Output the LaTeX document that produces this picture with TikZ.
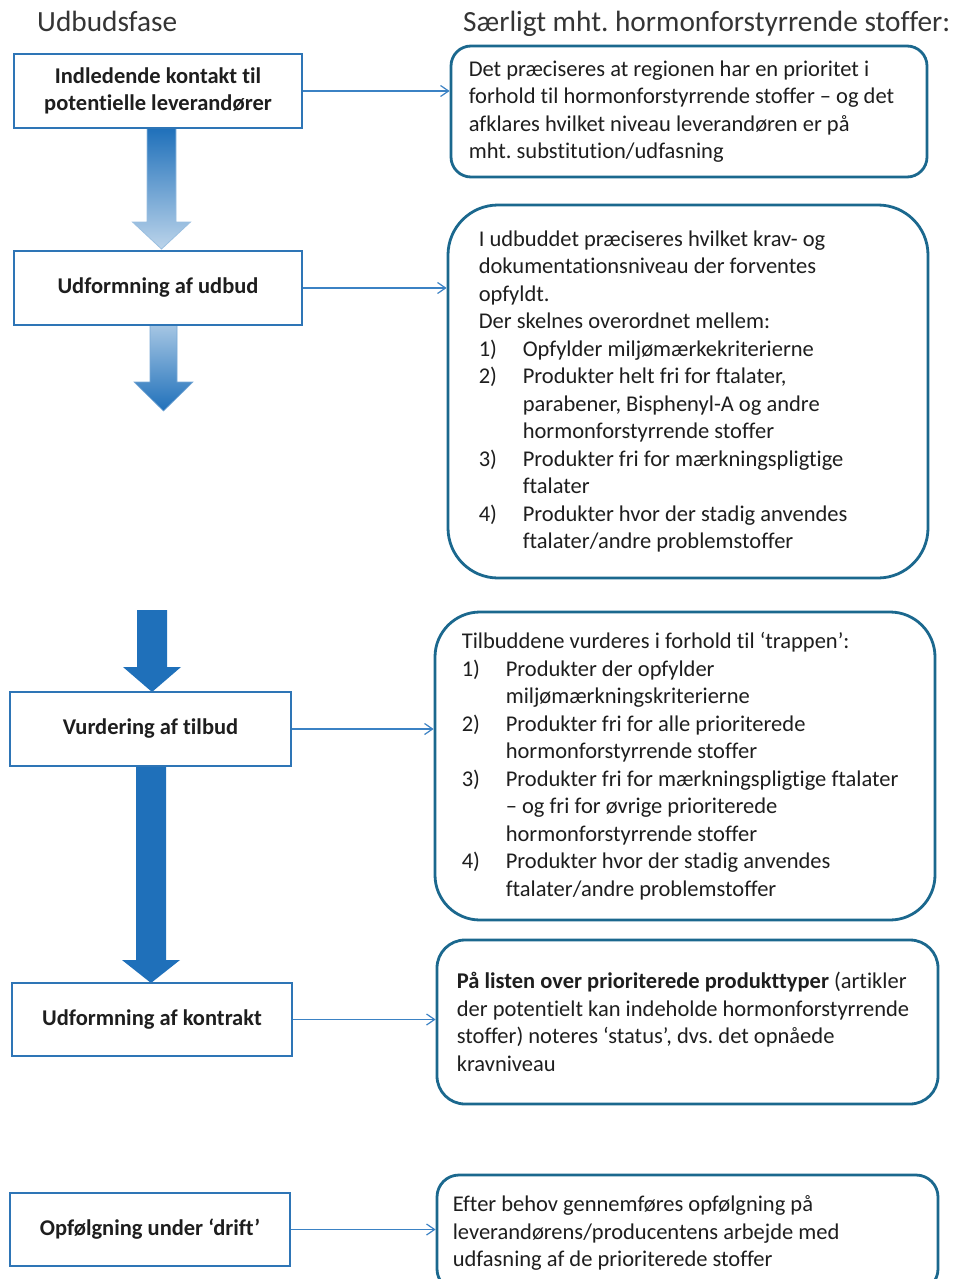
\documentclass[tikz,border=0pt]{standalone}
\usepackage{fontspec}
\setmainfont[Ligatures=NoCommon]{Carlito}
\usetikzlibrary{arrows.meta}
\definecolor{lbord}{RGB}{46,117,182}
\definecolor{rbord}{RGB}{27,104,142}
\definecolor{conn}{RGB}{59,130,196}
\definecolor{arr}{RGB}{31,112,186}
\definecolor{txt}{RGB}{30,30,30}
\frenchspacing
\newcommand\bodyfont{\fontsize{22.5}{27.5}\selectfont}
\newcommand\itm[2]{\makebox[44pt][l]{#1}#2}
\newcommand\cont{\hspace*{44pt}}
% #1 style, #2 x centre, #3 top, #4 head start, #5 tip, #6 shaft half width, #7 head half width
\newcommand\blockarrow[7]{%
  \path[#1] (#2-#6,#3) -- (#2+#6,#3) -- (#2+#6,#4) -- (#2+#7,#4) -- (#2,#5)
    -- (#2-#7,#4) -- (#2-#6,#4) -- cycle;}
\begin{document}
\begin{tikzpicture}[x=1pt,y=-1pt,
  leftbox/.style={draw=lbord, line width=2.4pt, fill=white, inner sep=0pt,
    align=center, font=\bodyfont\bfseries, text=txt},
  rbox/.style={draw=rbord, line width=2.8pt, fill=white, inner sep=0pt},
  rtext/.style={anchor=west, align=left, font=\bodyfont, text=txt, inner sep=0pt},
  heading/.style={anchor=base west, inner sep=0pt, text=txt!90,
    font=\fontsize{29.3}{35}\selectfont},
  conn/.style={draw=conn, line width=1.2pt, -{Straight Barb[length=8pt,width=11pt]}},
  fadedown/.style={top color=arr, bottom color=arr!30, draw=arr!45, line width=0.8pt},
  fadeup/.style={top color=arr!40, bottom color=arr, draw=arr!60, line width=0.6pt},
  solidarrow/.style={fill=arr}]
\path[use as bounding box, clip] (0,0) rectangle (959,1279);
\fill[white] (0,0) rectangle (959,1279);

% headings
\node[heading] (h1) at (37,32) {Udbudsfase};
\node[heading] (h2) at (463,32) {Særligt mht. hormonforstyrrende stoffer:};

% block arrows
\blockarrow{fadedown}{161.5}{128}{222}{249}{14.5}{29}
\blockarrow{fadeup}{163.5}{325}{382}{411}{13.5}{29.5}
\blockarrow{solidarrow}{152}{610}{667}{692}{15}{29}
\blockarrow{solidarrow}{151}{766}{960}{983}{15}{29}

% left boxes
\node[leftbox, minimum width=288, minimum height=74] (b1) at (158,91)
  {Indledende kontakt til\\potentielle leverandører};
\node[leftbox, minimum width=288, minimum height=74] (b2) at (158,288)
  {Udformning af udbud};
\node[leftbox, minimum width=281, minimum height=74] (b3) at (150.5,729)
  {Vurdering af tilbud};
\node[leftbox, minimum width=280, minimum height=73] (b4) at (152,1019.5)
  {Udformning af kontrakt};
\node[leftbox, minimum width=280, minimum height=73] (b5) at (150,1229.5)
  {Opfølgning under ‘drift’};

% right boxes
\node[rbox, rounded corners=20pt, minimum width=476, minimum height=131] (r1) at (689,111.5) {};
\node[rtext] (t1) at ([xshift=19pt]r1.west)
  {Det præciseres at regionen har en prioritet i\\
   forhold til hormonforstyrrende stoffer – og det\\
   afklares hvilket niveau leverandøren er på\\
   mht. substitution/udfasning};

\node[rbox, rounded corners=50pt, minimum width=480, minimum height=373] (r2) at (688,391.5) {};
\node[rtext] (t2) at ([xshift=32pt]r2.west)
  {I udbuddet præciseres hvilket krav- og\\
   dokumentationsniveau der forventes\\
   opfyldt.\\
   Der skelnes overordnet mellem:\\
   \itm{1)}{Opfylder miljømærkekriterierne}\\
   \itm{2)}{Produkter helt fri for ftalater,}\\
   \cont parabener, Bisphenyl-A og andre\\
   \cont hormonforstyrrende stoffer\\
   \itm{3)}{Produkter fri for mærkningspligtige}\\
   \cont ftalater\\
   \itm{4)}{Produkter hvor der stadig anvendes}\\
   \cont ftalater/andre problemstoffer};

\node[rbox, rounded corners=45pt, minimum width=500, minimum height=308] (r3) at (685,766) {};
\node[rtext] (t3) at ([xshift=28pt]r3.west)
  {Tilbuddene vurderes i forhold til ‘trappen’:\\
   \itm{1)}{Produkter der opfylder}\\
   \cont miljømærkningskriterierne\\
   \itm{2)}{Produkter fri for alle prioriterede}\\
   \cont hormonforstyrrende stoffer\\
   \itm{3)}{Produkter fri for mærkningspligtige ftalater}\\
   \cont – og fri for øvrige prioriterede\\
   \cont hormonforstyrrende stoffer\\
   \itm{4)}{Produkter hvor der stadig anvendes}\\
   \cont ftalater/andre problemstoffer};

\node[rbox, rounded corners=28pt, minimum width=501, minimum height=164] (r4) at (687.5,1022) {};
\node[rtext] (t4) at ([xshift=21pt]r4.west)
  {\textbf{På listen over prioriterede produkttyper} (artikler\\
   der potentielt kan indeholde hormonforstyrrende\\
   stoffer) noteres ‘status’, dvs. det opnåede\\
   kravniveau};

\node[rbox, rounded corners=22pt, minimum width=501, minimum height=116] (r5) at (687.5,1233) {};
\node[rtext] (t5) at ([xshift=17pt]r5.west)
  {Efter behov gennemføres opfølgning på\\
   leverandørens/producentens arbejde med\\
   udfasning af de prioriterede stoffer};

% connectors
\draw[conn] (b1.east) -- (b1.east -| r1.west);
\draw[conn] (b2.east) -- (b2.east -| r2.west);
\draw[conn] (b3.east) -- (b3.east -| r3.west);
\draw[conn] (b4.east) -- (b4.east -| r4.west);
\draw[conn] (b5.east) -- (b5.east -| r5.west);
\end{tikzpicture}
\end{document}
